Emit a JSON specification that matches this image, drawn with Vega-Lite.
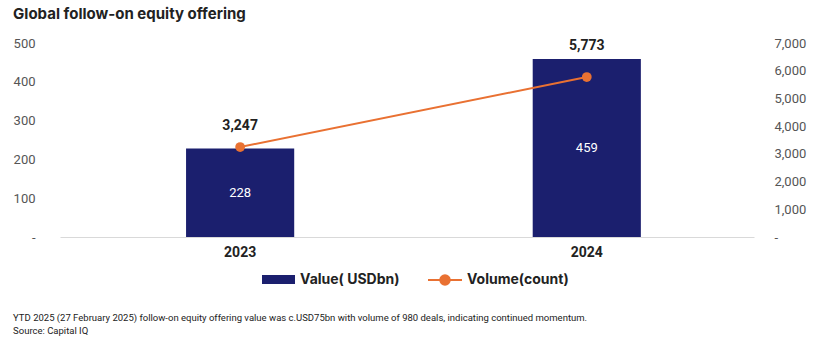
{
  "$schema": "https://vega.github.io/schema/vega-lite/v6.json",
  "padding": {"left": 13, "top": 7, "right": 5, "bottom": 5},
  "config": {"view": {"stroke": null}, "font": "Roboto"},
  "title": {
    "text": ["YTD 2025 (27 February 2025) follow-on equity offering value was c.USD75bn with volume of 980 deals, indicating continued momentum.", "Source: Capital IQ"],
    "orient": "bottom",
    "anchor": "start",
    "fontSize": 9.5,
    "fontWeight": "normal",
    "color": "#222222",
    "offset": 24,
    "lineHeight": 13
  },
  "vconcat": [
    {
      "width": 694,
      "height": 194,
      "title": {"text": "Global follow-on equity offering", "anchor": "start", "font": "Inter", "fontSize": 15, "fontWeight": "bold", "color": "#222222", "offset": 15},
      "data": {"values": [
        {"year": "2023", "value": 228, "volume": 3247},
        {"year": "2024", "value": 459, "volume": 5773}
      ]},
      "encoding": {
        "x": {
          "field": "year", "type": "nominal",
          "scale": {"paddingInner": 0.688, "paddingOuter": 0.345, "align": 0.527},
          "axis": {"title": null, "labelAngle": 0, "labelFontSize": 14, "labelFontWeight": "bold", "labelColor": "#222222", "ticks": false, "domainColor": "#d9d9d9", "labelPadding": 8}
        }
      },
      "layer": [
        {
          "mark": {"type": "bar"},
          "encoding": {
            "y": {"field": "value", "type": "quantitative", "scale": {"domain": [0, 500]},
              "axis": {"orient": "left", "title": null, "values": [0, 100, 200, 300, 400, 500], "labelExpr": "datum.value == 0 ? '-' : datum.label", "grid": false, "domain": false, "ticks": false, "labelPadding": 25, "labelFontSize": 13, "labelColor": "#555555"}},
            "color": {"datum": "Value( USDbn)", "type": "nominal", "scale": {"range": ["#1B1F6E"]},
              "legend": {"title": null, "orient": "none", "legendX": 201, "legendY": 219, "symbolType": "M-1,-0.27H1V0.27H-1Z", "symbolSize": 1089, "labelFont": "Inter", "labelFontSize": 14, "labelFontWeight": "bold", "labelColor": "#222222"}}
          }
        },
        {
          "mark": {"type": "line", "strokeWidth": 2},
          "encoding": {
            "y": {"field": "volume", "type": "quantitative", "scale": {"domain": [0, 7000]},
              "axis": {"orient": "right", "title": null, "values": [0, 1000, 2000, 3000, 4000, 5000, 6000, 7000], "labelExpr": "datum.value == 0 ? '-' : datum.label", "grid": false, "domain": false, "ticks": false, "labelPadding": 20, "labelFontSize": 13, "labelColor": "#555555"}},
            "stroke": {"datum": "Volume(count)", "type": "nominal", "scale": {"range": ["#E97132"]},
              "legend": {"title": null, "orient": "none", "legendX": 367, "legendY": 219, "symbolType": "M-1,0H1M0.28,0A0.28,0.28,0,1,1,-0.28,0A0.28,0.28,0,1,1,0.28,0Z", "symbolSize": 1156, "symbolStrokeWidth": 2, "symbolFillColor": "#E97132", "labelFont": "Inter", "labelFontSize": 14, "labelFontWeight": "bold", "labelColor": "#222222"}}
          }
        },
        {
          "mark": {"type": "point", "filled": true, "size": 95, "color": "#E97132", "opacity": 1},
          "encoding": {
            "y": {"field": "volume", "type": "quantitative", "scale": {"domain": [0, 7000]}, "axis": null}
          }
        },
        {
          "mark": {"type": "text", "dy": -8, "fontSize": 14, "fontWeight": "bold", "color": "#222222"},
          "encoding": {
            "y": {"field": "volume", "type": "quantitative", "scale": {"domain": [0, 6125]}, "axis": null},
            "text": {"field": "volume", "type": "quantitative", "format": ","}
          }
        },
        {
          "mark": {"type": "text", "fontSize": 13, "color": "#ffffff"},
          "encoding": {
            "y": {"field": "value", "type": "quantitative", "scale": {"domain": [0, 1000]}, "axis": null},
            "text": {"field": "value", "type": "quantitative"}
          }
        }
      ],
      "resolve": {"scale": {"y": "independent"}}
    }
  ]
}
